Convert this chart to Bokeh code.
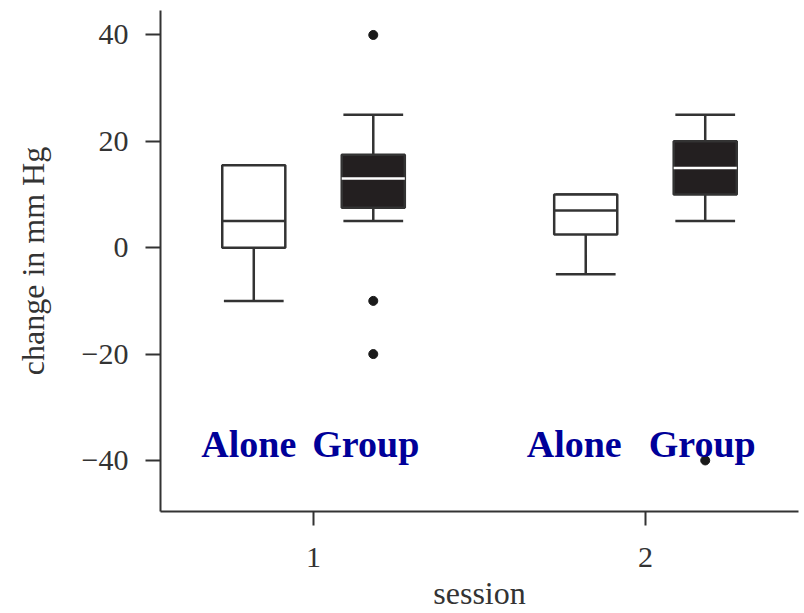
from bokeh.plotting import figure
from bokeh.models import ColumnDataSource
from bokeh.core.properties import value
from bokeh.embed import file_html
from bokeh.resources import INLINE

# ---- data ----
sessions = [1, 1, 2, 2]
groups = ["Alone", "Group", "Alone", "Group"]
lower_whisker = [-10, 5, -5, 5]
q1 = [0, 7.5, 2.5, 10]
median = [5, 13, 7, 15]
q3 = [15.5, 17.5, 10, 20]
upper_whisker = [15.5, 25, 10, 25]
outlier_session = [1, 1, 1, 2]
outlier_group = ["Group", "Group", "Group", "Group"]
outlier_values = [40, -10, -20, -40]
x_ticks = [1, 2]
y_ticks = [-40, -20, 0, 20, 40]

# ---- layout / style ----
offset = {"Alone": -0.18, "Group": 0.18}
label_shift = [-5, -7.5, -11.5, -3]
box_w = 0.19
cap_w = 0.18
ink = "#333333"
fills = {"Alone": "white", "Group": "#231f20"}
med_col = {"Alone": ink, "Group": "white"}

xs = [s + offset[g] for s, g in zip(sessions, groups)]
src = ColumnDataSource(dict(
    x=xs,
    left=[x - box_w / 2 for x in xs],
    right=[x + box_w / 2 for x in xs],
    cl=[x - cap_w / 2 for x in xs],
    cr=[x + cap_w / 2 for x in xs],
    lw=lower_whisker, q1=q1, med=median, q3=q3, uw=upper_whisker,
    fill=[fills[g] for g in groups],
    mcol=[med_col[g] for g in groups],
    label=groups,
    xoff=label_shift,
))

p = figure(width=804, height=613,
           x_range=(0.539, 2.461), y_range=(-49.6, 44.6),
           output_backend="svg", toolbar_location=None,
           min_border_left=160, min_border_right=6,
           min_border_top=10, min_border_bottom=101)
p.outline_line_color = None
p.xgrid.visible = False
p.ygrid.visible = False
p.background_fill_color = "white"
p.border_fill_color = "white"

lw_box = 2.5
# whiskers
p.segment(x0="x", y0="lw", x1="x", y1="q1", source=src, line_color=ink, line_width=lw_box)
p.segment(x0="x", y0="q3", x1="x", y1="uw", source=src, line_color=ink, line_width=lw_box)
p.segment(x0="cl", y0="lw", x1="cr", y1="lw", source=src, line_color=ink, line_width=lw_box)
p.segment(x0="cl", y0="uw", x1="cr", y1="uw", source=src, line_color=ink, line_width=lw_box)
# boxes
p.quad(left="left", right="right", bottom="q1", top="q3", source=src,
       fill_color="fill", line_color=ink, line_width=lw_box)
# medians
p.segment(x0="left", y0="med", x1="right", y1="med", source=src,
          line_color="mcol", line_width=lw_box)
# outliers
ox = [s + offset[g] for s, g in zip(outlier_session, outlier_group)]
p.scatter(x=ox, y=outlier_values, size=9, color="#1a1a1a")

# group labels
p.text(x="x", y=-36.85, text="label", source=src,
       text_font=value("Liberation Serif"), text_font_style="bold",
       text_font_size="38px", text_color="#000099",
       text_align="center", text_baseline="alphabetic", x_offset="xoff")

# axes
for ax in (p.xaxis, p.yaxis):
    ax.axis_line_width = 2
    ax.axis_line_color = ink
    ax.major_tick_line_width = 2
    ax.major_tick_line_color = ink
    ax.minor_tick_line_color = None
    ax.major_tick_in = 0
    ax.major_label_text_font = "Liberation Serif"
    ax.major_label_text_font_size = "30px"
    ax.major_label_text_color = ink
    ax.axis_label_text_font = "Liberation Serif"
    ax.axis_label_text_font_size = "32px"
    ax.axis_label_text_font_style = "normal"
    ax.axis_label_text_color = ink

p.xaxis.ticker = x_ticks
p.yaxis.ticker = y_ticks
p.xaxis.major_tick_out = 14
p.yaxis.major_tick_out = 15
p.xaxis.major_label_standoff = 22
p.yaxis.major_label_standoff = 17
p.yaxis.major_label_overrides = {t: ("\u2212" + str(-t) if t < 0 else str(t)) for t in y_ticks}
p.xaxis.axis_label = "session"
p.yaxis.axis_label = "change in mm Hg"
p.xaxis.axis_label_standoff = 5
p.yaxis.axis_label_standoff = 28

open("out.html", "w").write(file_html(p, INLINE))
